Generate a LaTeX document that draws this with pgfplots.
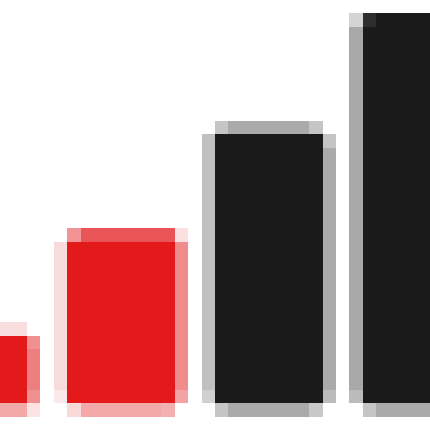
\documentclass[border=0pt]{standalone}
\usepackage{pgfplots}
\pgfplotsset{compat=1.18}
\definecolor{barred}{HTML}{E31A1C}
\definecolor{barblack}{HTML}{1A1A1A}
\newcommand{\hex}[1]{\definecolor{c#1}{HTML}{#1}}
\hex{F8DEDE}\hex{EE7F80}\hex{F09090}\hex{F4A9A9}\hex{FBE3E3}
\hex{F29495}\hex{E95456}\hex{FBE0E0}\hex{F8DCDC}\hex{FBE9E9}\hex{F08C8C}\hex{F3A3A3}\hex{FAD9D9}\hex{F4A8A8}\hex{F4B0B0}
\hex{C5C5C5}\hex{AAAAAA}\hex{C0C0C0}\hex{D0D0D0}\hex{C4C4C4}\hex{BBBBBB}\hex{C8C8C8}
\hex{D4D4D4}\hex{A8A8A8}\hex{2E2E2E}
% x0, x1, y0, y1 in units of the 32x32 pixel grid, y counted from the bottom
\newcommand{\cell}[5]{\addplot[fill=c#1, draw=none, forget plot] coordinates {(#2,#4) (#3,#4) (#3,#5) (#2,#5)} -- cycle;}
\begin{document}
\begin{tikzpicture}
\fill[white] (0,0) rectangle (430pt,430pt);
\begin{axis}[
   scale only axis,
   width=430pt, height=430pt,
   xmin=0, xmax=32,
   ymin=0, ymax=32,
   hide axis,
]
% bar 1
\cell{F8DEDE}{0}{2}{7}{8}
\cell{EE7F80}{2}{3}{2}{7}
\cell{F09090}{2}{3}{6}{7}
\cell{F09090}{2}{3}{2}{3}
\cell{F4A9A9}{0}{2}{1}{2}
\cell{FBE3E3}{2}{3}{1}{2}
\addplot[fill=barred, draw=none, forget plot] coordinates {(0,2) (2,2) (2,7) (0,7)} -- cycle;
% bar 2
\cell{F29495}{5}{6}{14}{15}
\cell{E95456}{6}{13}{14}{15}
\cell{FBE0E0}{13}{14}{14}{15}
\cell{F8DCDC}{4}{5}{3}{14}
\cell{FBE9E9}{4}{5}{2}{3}
\cell{F08C8C}{13}{14}{3}{14}
\cell{F3A3A3}{13}{14}{2}{3}
\cell{FAD9D9}{5}{6}{1}{2}
\cell{F4A8A8}{6}{12}{1}{2}
\cell{F4B0B0}{12}{13}{1}{2}
\addplot[fill=barred, draw=none, forget plot] coordinates {(5,2) (13,2) (13,14) (5,14)} -- cycle;
% bar 3
\cell{C5C5C5}{16}{17}{22}{23}
\cell{AAAAAA}{17}{23}{22}{23}
\cell{C5C5C5}{23}{24}{22}{23}
\cell{C0C0C0}{15}{16}{3}{22}
\cell{D0D0D0}{15}{16}{2}{3}
\cell{AAAAAA}{24}{25}{3}{21}
\cell{C4C4C4}{24}{25}{21}{22}
\cell{BBBBBB}{24}{25}{2}{3}
\cell{C5C5C5}{16}{17}{1}{2}
\cell{AAAAAA}{17}{23}{1}{2}
\cell{C8C8C8}{23}{24}{1}{2}
\addplot[fill=barblack, draw=none, forget plot] coordinates {(16,2) (24,2) (24,22) (16,22)} -- cycle;
% bar 4
\cell{D4D4D4}{26}{27}{30}{31}
\cell{A8A8A8}{26}{27}{3}{30}
\cell{BBBBBB}{26}{27}{2}{3}
\cell{C5C5C5}{27}{28}{1}{2}
\cell{AAAAAA}{28}{32}{1}{2}
\addplot[fill=barblack, draw=none, forget plot] coordinates {(27,2) (32,2) (32,30) (27,30)} -- cycle;
\cell{2E2E2E}{27}{28}{30}{31}
\addplot[fill=barblack, draw=none, forget plot] coordinates {(28,30) (32,30) (32,31) (28,31)} -- cycle;
\end{axis}
\end{tikzpicture}
\end{document}
